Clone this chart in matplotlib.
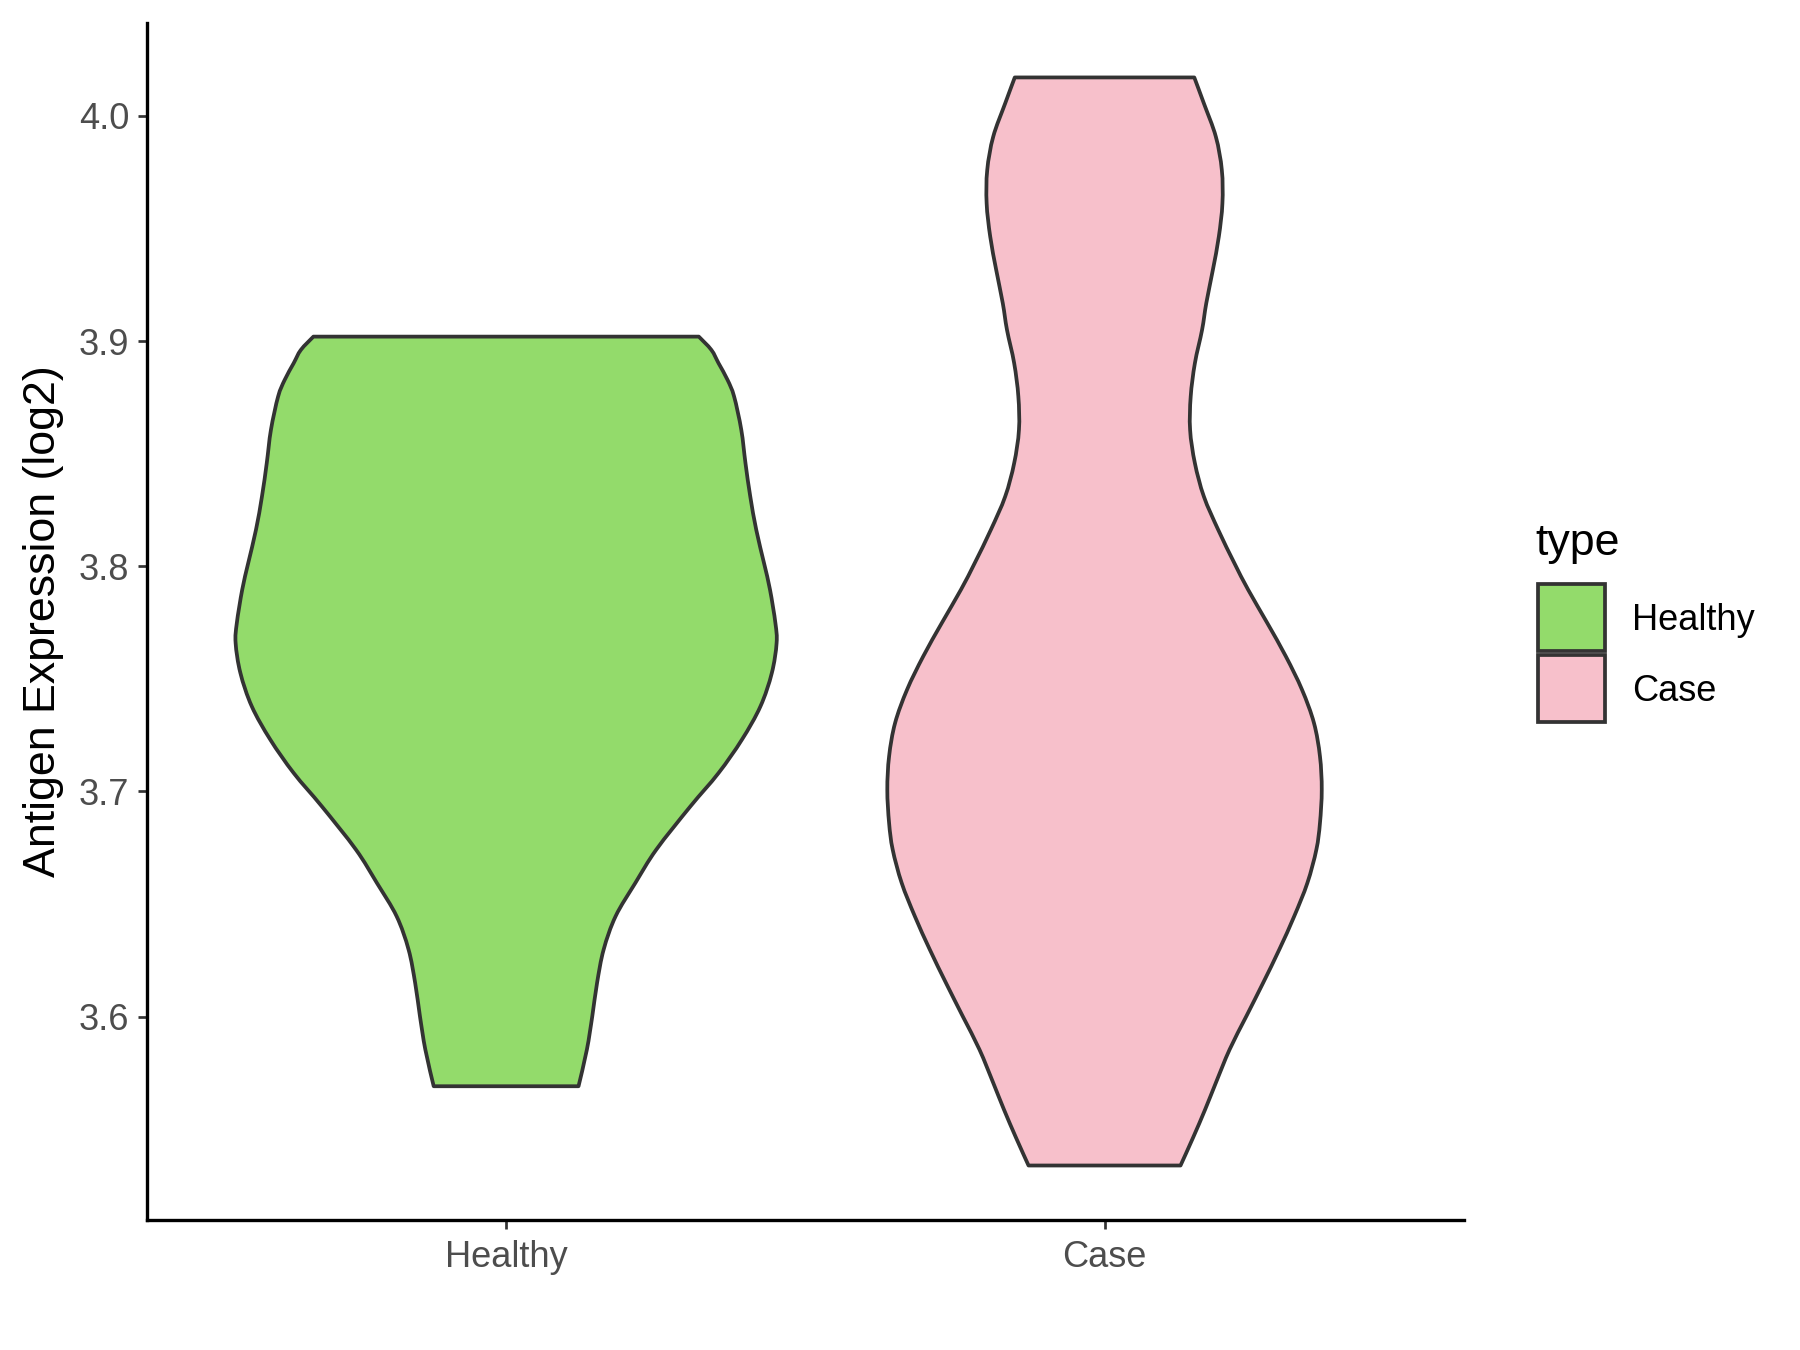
import matplotlib
matplotlib.use("Agg")
import matplotlib.pyplot as plt
from matplotlib.patches import Rectangle, PathPatch
from matplotlib.path import Path
import numpy as np

plt.rcParams['font.family'] = ['Liberation Sans', 'DejaVu Sans']

# violin outlines: expression level and half-width (category units)
categories = ["Healthy", "Case"]
colors = ["#93DB6B", "#F7C0CB"]

healthy_levels = [3.5691, 3.5854, 3.6002, 3.6150, 3.6298, 3.6446, 3.6594, 3.6742,
                  3.6934, 3.7082, 3.7230, 3.7378, 3.7526, 3.7659, 3.7748, 3.7896,
                  3.8014, 3.8162, 3.8310, 3.8458, 3.8606, 3.8754, 3.8828, 3.8902,
                  3.8961, 3.9020]
healthy_halfwidth = [0.121, 0.135, 0.144, 0.152, 0.163, 0.183, 0.216, 0.251,
                     0.308, 0.355, 0.394, 0.425, 0.444, 0.452, 0.450, 0.441,
                     0.431, 0.418, 0.408, 0.400, 0.393, 0.381, 0.370, 0.355,
                     0.343, 0.322]

case_levels = [3.5339, 3.5463, 3.5587, 3.5706, 3.5854, 3.6002, 3.6150, 3.6298,
               3.6446, 3.6594, 3.6742, 3.6860, 3.7008, 3.7156, 3.7304, 3.7452,
               3.7600, 3.7748, 3.7896, 3.8014, 3.8162, 3.8310, 3.8458, 3.8606,
               3.8754, 3.8902, 3.9050, 3.9168, 3.9316, 3.9464, 3.9612, 3.9760,
               3.9908, 4.0056, 4.0171]
case_halfwidth = [0.127, 0.148, 0.168, 0.186, 0.209, 0.237, 0.265, 0.292,
                  0.317, 0.339, 0.354, 0.360, 0.363, 0.360, 0.350, 0.330,
                  0.303, 0.272, 0.240, 0.217, 0.190, 0.166, 0.151, 0.143,
                  0.144, 0.151, 0.163, 0.170, 0.181, 0.191, 0.197, 0.196,
                  0.186, 0.166, 0.150]

yticks = [3.6, 3.7, 3.8, 3.9, 4.0]


def smooth_side(pts):
    # bezier segments through the points (catmull-rom tangents)
    verts, codes = [], []
    n = len(pts)
    for k in range(n - 1):
        p0 = pts[max(k - 1, 0)]
        p1 = pts[k]
        p2 = pts[k + 1]
        p3 = pts[min(k + 2, n - 1)]
        verts += [p1 + (p2 - p0) / 6, p2 - (p3 - p1) / 6, p2]
        codes += [Path.CURVE4] * 3
    return verts, codes


def violin_path(pos, lev, hw):
    lev = np.array(lev)
    hw = np.array(hw)
    left = np.column_stack([pos - hw, lev])
    right = np.column_stack([pos + hw, lev])[::-1]
    verts = [left[0]]
    codes = [Path.MOVETO]
    v, c = smooth_side(left)
    verts += v
    codes += c
    verts.append(right[0])
    codes.append(Path.LINETO)
    v, c = smooth_side(right)
    verts += v
    codes += c
    verts.append(left[0])
    codes.append(Path.CLOSEPOLY)
    return Path(verts, codes)


fig = plt.figure(figsize=(12, 9), dpi=150)
ax = fig.add_axes([0.0817, 0.0963, 0.7314, 0.8867])

outlines = [(healthy_levels, healthy_halfwidth), (case_levels, case_halfwidth)]
for i, (lev, hw) in enumerate(outlines):
    patch = PathPatch(violin_path(i + 1, lev, hw), facecolor=colors[i],
                      edgecolor="#333333", linewidth=1.8, joinstyle="round", zorder=2)
    ax.add_patch(patch)

ax.set_xlim(0.4, 2.6)
ax.set_ylim(3.5097, 4.0413)
ax.set_xticks([1, 2])
ax.set_xticklabels(categories)
ax.set_yticks(yticks)
ax.set_yticklabels(["%.1f" % t for t in yticks])

for s in ["top", "right"]:
    ax.spines[s].set_visible(False)
for s in ["left", "bottom"]:
    ax.spines[s].set_linewidth(1.6)
    ax.spines[s].set_color("black")
ax.tick_params(axis="both", length=4.4, width=1.3, color="#333333",
               labelsize=17.4, labelcolor="#4D4D4D", pad=4)
ax.tick_params(axis="x", pad=5)

ax.set_ylabel("Antigen Expression (log2)", fontsize=21.5, color="black")
ax.yaxis.set_label_coords(-0.063, 0.5)

# legend drawn by hand, ggplot style
def fx(px):
    return px / 1800.0

def fy(py):
    return 1 - py / 1350.0

fig.text(fx(1535), fy(555), "type", fontsize=21.5, va="baseline", ha="left")
key_tops = [584, 655]
for i, name in enumerate(categories):
    top = key_tops[i]
    rect = Rectangle((fx(1538), fy(top + 67)), fx(67), 67 / 1350.0,
                     transform=fig.transFigure, facecolor=colors[i],
                     edgecolor="#333333", linewidth=1.8)
    fig.add_artist(rect)
    fig.text(fx(1632), fy(top + 46), name, fontsize=17.4, va="baseline", ha="left")

fig.savefig("out.png", dpi=150, facecolor="white")
